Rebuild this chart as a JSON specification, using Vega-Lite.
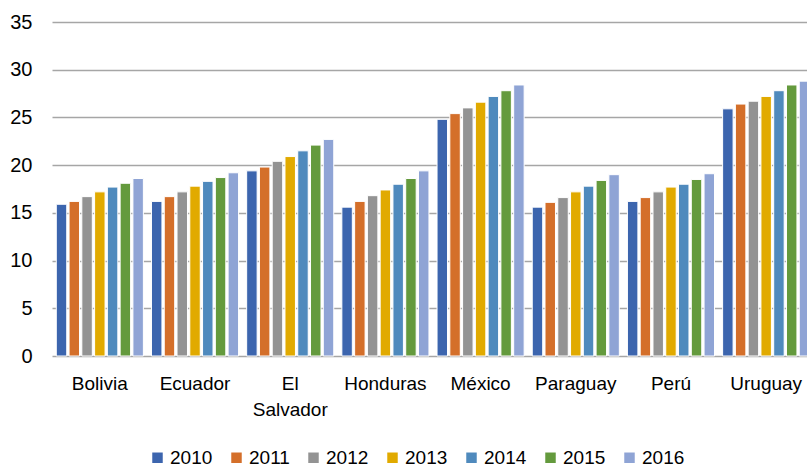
{
  "$schema": "https://vega.github.io/schema/vega-lite/v6.json",
  "autosize": {"type": "none"},
  "padding": {"left": 52, "top": 22, "right": 0, "bottom": 111},
  "width": 762,
  "height": 334,
  "background": "white",
  "config": {
    "font": "Liberation Sans",
    "view": {"stroke": null}
  },
  "data": {"values": [
    {"country": "Bolivia", "year": "2010", "value": 15.9},
    {"country": "Bolivia", "year": "2011", "value": 16.2},
    {"country": "Bolivia", "year": "2012", "value": 16.7},
    {"country": "Bolivia", "year": "2013", "value": 17.2},
    {"country": "Bolivia", "year": "2014", "value": 17.7},
    {"country": "Bolivia", "year": "2015", "value": 18.1},
    {"country": "Bolivia", "year": "2016", "value": 18.6},
    {"country": "Ecuador", "year": "2010", "value": 16.2},
    {"country": "Ecuador", "year": "2011", "value": 16.7},
    {"country": "Ecuador", "year": "2012", "value": 17.2},
    {"country": "Ecuador", "year": "2013", "value": 17.8},
    {"country": "Ecuador", "year": "2014", "value": 18.3},
    {"country": "Ecuador", "year": "2015", "value": 18.7},
    {"country": "Ecuador", "year": "2016", "value": 19.2},
    {"country": "El Salvador", "year": "2010", "value": 19.4},
    {"country": "El Salvador", "year": "2011", "value": 19.8},
    {"country": "El Salvador", "year": "2012", "value": 20.4},
    {"country": "El Salvador", "year": "2013", "value": 20.9},
    {"country": "El Salvador", "year": "2014", "value": 21.5},
    {"country": "El Salvador", "year": "2015", "value": 22.1},
    {"country": "El Salvador", "year": "2016", "value": 22.7},
    {"country": "Honduras", "year": "2010", "value": 15.6},
    {"country": "Honduras", "year": "2011", "value": 16.2},
    {"country": "Honduras", "year": "2012", "value": 16.8},
    {"country": "Honduras", "year": "2013", "value": 17.4},
    {"country": "Honduras", "year": "2014", "value": 18.0},
    {"country": "Honduras", "year": "2015", "value": 18.6},
    {"country": "Honduras", "year": "2016", "value": 19.4},
    {"country": "México", "year": "2010", "value": 24.8},
    {"country": "México", "year": "2011", "value": 25.4},
    {"country": "México", "year": "2012", "value": 26.0},
    {"country": "México", "year": "2013", "value": 26.6},
    {"country": "México", "year": "2014", "value": 27.2},
    {"country": "México", "year": "2015", "value": 27.8},
    {"country": "México", "year": "2016", "value": 28.4},
    {"country": "Paraguay", "year": "2010", "value": 15.6},
    {"country": "Paraguay", "year": "2011", "value": 16.1},
    {"country": "Paraguay", "year": "2012", "value": 16.6},
    {"country": "Paraguay", "year": "2013", "value": 17.2},
    {"country": "Paraguay", "year": "2014", "value": 17.8},
    {"country": "Paraguay", "year": "2015", "value": 18.4},
    {"country": "Paraguay", "year": "2016", "value": 19.0},
    {"country": "Perú", "year": "2010", "value": 16.2},
    {"country": "Perú", "year": "2011", "value": 16.6},
    {"country": "Perú", "year": "2012", "value": 17.2},
    {"country": "Perú", "year": "2013", "value": 17.7},
    {"country": "Perú", "year": "2014", "value": 18.0},
    {"country": "Perú", "year": "2015", "value": 18.5},
    {"country": "Perú", "year": "2016", "value": 19.1},
    {"country": "Uruguay", "year": "2010", "value": 25.9},
    {"country": "Uruguay", "year": "2011", "value": 26.4},
    {"country": "Uruguay", "year": "2012", "value": 26.7},
    {"country": "Uruguay", "year": "2013", "value": 27.2},
    {"country": "Uruguay", "year": "2014", "value": 27.8},
    {"country": "Uruguay", "year": "2015", "value": 28.4},
    {"country": "Uruguay", "year": "2016", "value": 28.8}
  ]},
  "mark": {"type": "bar", "stroke": "white", "strokeWidth": 1},
  "encoding": {
    "x": {
      "field": "country", "type": "nominal", "sort": null,
      "scale": {"paddingInner": 0.085, "paddingOuter": 0.045},
      "axis": {
        "title": null, "labelAngle": 0, "domain": false, "ticks": false,
        "labelFontSize": 19, "labelColor": "#000000", "labelPadding": 18,
        "labelLineHeight": 26,
        "labelExpr": "datum.label == 'El Salvador' ? ['El', 'Salvador'] : datum.label"
      }
    },
    "xOffset": {"field": "year", "type": "nominal", "scale": {"paddingInner": 0.18}},
    "y": {
      "field": "value", "type": "quantitative",
      "scale": {"domain": [0, 35]},
      "axis": {
        "title": null, "values": [0, 5, 10, 15, 20, 25, 30, 35],
        "domain": false, "ticks": false, "labelFontSize": 20, "labelColor": "#000000",
        "labelPadding": 20, "gridColor": "#a6a6a6", "gridWidth": 1.3
      }
    },
    "color": {
      "field": "year", "type": "nominal",
      "scale": {
        "domain": ["2010", "2011", "2012", "2013", "2014", "2015", "2016"],
        "range": ["#3c65ae", "#d46f2a", "#939393", "#e1aa00", "#4f8abd", "#649a3d", "#8fa4d5"]
      },
      "legend": {
        "title": null, "orient": "none", "legendX": 96, "legendY": 426,
        "direction": "horizontal", "columns": 7,
        "symbolType": "square", "symbolSize": 110, "symbolStrokeWidth": 0,
        "labelFontSize": 19, "labelColor": "#000000", "labelOffset": 3,
        "columnPadding": 14
      }
    }
  }
}
